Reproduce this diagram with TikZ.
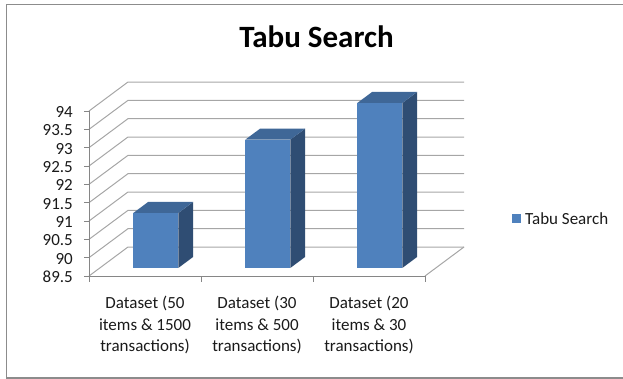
\documentclass[tikz,border=0pt]{standalone}
\usepackage{fontspec}
\setmainfont{Carlito}
\definecolor{barfront}{HTML}{4F81BD}
\definecolor{bartop}{HTML}{3F6797}
\definecolor{barside}{HTML}{2F4D73}
\definecolor{axisgray}{HTML}{868686}
\definecolor{gridgray}{HTML}{A6A6A6}
\definecolor{framegray}{HTML}{8C8C8C}
\definecolor{txt}{HTML}{1A1A1A}
\tikzset{
  axisline/.style={draw=axisgray, line width=1pt},
  gridline/.style={draw=gridgray, line width=1pt},
  lbl/.style={font=\fontsize{17}{21.5}\selectfont, text=txt, inner sep=0pt},
  catlbl/.style={lbl, align=center, anchor=north},
  frontface/.style={fill=barfront},
  topface/.style={fill=bartop},
  sideface/.style={fill=barside},
}
\begin{document}
\begin{tikzpicture}[x=1pt,y=-1pt]
\useasboundingbox (0,0) rectangle (623,379);
% frame
\draw[framegray, line width=1.6pt] (624,4.5) -- (6.5,4.5) -- (6.5,378) -- (624,378);
% geometry
\def\fx{89}\def\fy{276}\def\dx{39}\def\dy{-29}\def\step{18.333}
% back wall gridlines and left wall diagonals
\foreach \i in {0,...,9}{
  \pgfmathsetmacro{\yy}{\fy-\i*\step}
  \draw[gridline] (\fx,\yy) -- (\fx+\dx,\yy+\dy) -- (464,\yy+\dy);
  \draw[axisline] (\fx-5,\yy) -- (\fx,\yy);
}
% floor
\draw[gridline] (464,\fy+\dy) -- (425,\fy);
\draw[axisline] (\fx,\fy) -- (425,\fy);
\foreach \x in {89,201,313,425}{
  \draw[axisline] (\x,\fy) -- (\x,\fy+6);
}
% value axis
\draw[axisline] (\fx,\fy-9*\step) -- (\fx,\fy);
% bars
\foreach \v [count=\i] in {91,93,94}{
  \pgfmathsetmacro{\cx}{89+112*(\i-0.5)+10.9}
  \pgfmathsetmacro{\ty}{\fy-(\v-89.5)*2*\step-8.1}
  \pgfmathsetmacro{\by}{\fy-8.1}
  \pgfmathsetmacro{\xl}{\cx-22.5}
  \pgfmathsetmacro{\xr}{\cx+22.5}
  \fill[sideface] (\xr,\ty) -- (\xr+14.8,\ty-11) -- (\xr+14.8,\by-11) -- (\xr,\by) -- cycle;
  \fill[topface] (\xl,\ty) -- (\xl+14.8,\ty-11) -- (\xr+14.8,\ty-11) -- (\xr,\ty) -- cycle;
  \fill[frontface] (\xl,\ty) rectangle (\xr,\by);
}
% value labels
\foreach \t [count=\i from 0] in {89.5,90,90.5,91,91.5,92,92.5,93,93.5,94}{
  \node[lbl, anchor=east] (v\i) at (73,\fy-\i*\step+1) {\t};
}
% category labels
\node[catlbl] (c1) at (145,296) {Dataset (50\\items \& 1500\\transactions)};
\node[catlbl] (c2) at (257,296) {Dataset (30\\items \& 500\\transactions)};
\node[catlbl] (c3) at (369,296) {Dataset (20\\items \& 30\\transactions)};
% title
\node[font=\fontsize{31}{36}\selectfont\bfseries, text=black, inner sep=0pt, anchor=base] (title) at (316.5,48) {Tabu Search};
% legend
\fill[barfront] (511.5,214) rectangle (520.5,223);
\node[lbl, anchor=west] (leg) at (525,218.5) {Tabu Search};
\end{tikzpicture}
\end{document}
